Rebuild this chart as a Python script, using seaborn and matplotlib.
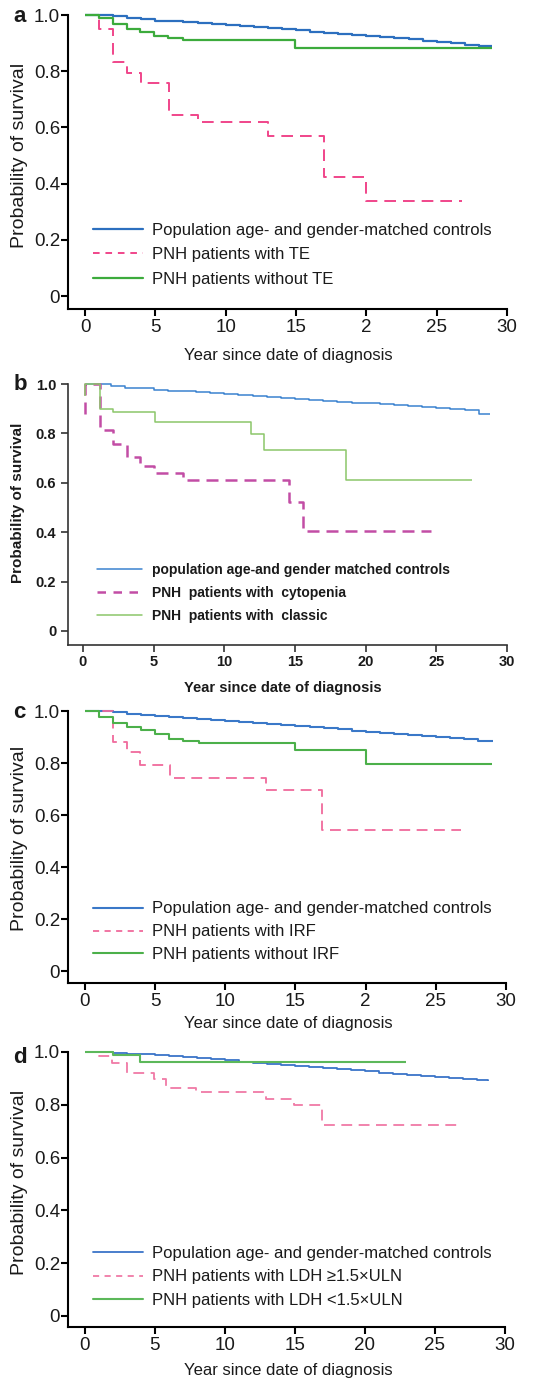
import matplotlib
matplotlib.use("Agg")
import matplotlib.pyplot as plt
from matplotlib.lines import Line2D
import pandas as pd
import seaborn as sns

sns.set_theme(style="ticks")
plt.rcParams["font.family"] = ["Liberation Sans", "DejaVu Sans"]
FAMILY = ["Liberation Sans", "DejaVu Sans"]

W, H = 553, 1382

# ---------------- data ----------------
x_ticks = [0, 5, 10, 15, 20, 25, 30]
y_ticks = [0, 0.2, 0.4, 0.6, 0.8, 1.0]
y_tick_labels = ["0", "0.2", "0.4", "0.6", "0.8", "1.0"]
x_tick_labels_ac = ["0", "5", "10", "15", "2", "25", "30"]
x_tick_labels_bd = ["0", "5", "10", "15", "20", "25", "30"]

# panel a: thromboembolism (TE)
a_ctrl_t = [0, 1, 2, 3, 4, 5, 6, 7, 8, 9, 10, 11, 12, 13, 14, 15, 16, 17, 18, 19,
            20, 21, 22, 23, 24, 25, 26, 27, 28, 28.9]
a_ctrl_s = [1.0, 1.0, 0.995, 0.99, 0.985, 0.98, 0.977, 0.974, 0.971, 0.968, 0.965,
            0.961, 0.957, 0.953, 0.949, 0.945, 0.941, 0.937, 0.933, 0.929, 0.925,
            0.921, 0.917, 0.913, 0.909, 0.905, 0.899, 0.895, 0.89, 0.888]
a_te_t = [0, 1.0, 2.0, 3.0, 4.0, 6.0, 8.0, 13.0, 17.0, 20.0, 26.8]
a_te_s = [1.0, 0.95, 0.834, 0.795, 0.757, 0.644, 0.62, 0.569, 0.425, 0.338, 0.338]
a_note_t = [0, 1.0, 2.0, 3.0, 3.9, 4.9, 5.9, 7.0, 14.9, 28.9]
a_note_s = [1.0, 0.988, 0.968, 0.949, 0.938, 0.925, 0.917, 0.911, 0.884, 0.884]
a_labels = ["Population age- and gender-matched controls",
            "PNH patients with TE",
            "PNH patients without TE"]

# panel b: cytopenia vs classic
b_ctrl_t = [0.2, 1, 2, 3, 4, 5, 6, 7, 8, 9, 10, 11, 12, 13, 14, 15, 16, 17, 18, 19,
            20, 21, 22, 23, 24, 25, 26, 27, 28, 28.8]
b_ctrl_s = [1.0, 1.0, 0.99, 0.985, 0.982, 0.975, 0.972, 0.97, 0.966, 0.962, 0.958,
            0.955, 0.951, 0.947, 0.943, 0.939, 0.936, 0.932, 0.928, 0.925, 0.922,
            0.918, 0.914, 0.91, 0.907, 0.903, 0.898, 0.893, 0.88, 0.88]
b_cyto_t = [0.15, 0.15, 1.2, 2.1, 3.1, 4.05, 5.05, 7.1, 14.6, 15.6, 24.6]
b_cyto_s = [0.88, 1.0, 0.812, 0.758, 0.704, 0.666, 0.639, 0.612, 0.521, 0.405, 0.405]
b_clas_t = [0.15, 0.15, 1.2, 2.1, 5.1, 11.9, 12.8, 18.6, 27.5]
b_clas_s = [0.95, 1.0, 0.90, 0.885, 0.848, 0.796, 0.733, 0.612, 0.612]
b_labels = ["population age-and gender matched controls",
            "PNH  patients with  cytopenia",
            "PNH  patients with  classic"]

# panel c: impaired renal function (IRF)
c_ctrl_t = [0, 1, 2, 3, 4, 5, 6, 7, 8, 9, 10, 11, 12, 13, 14, 15, 16, 17, 18, 19,
            20, 21, 22, 23, 24, 25, 26, 27, 28, 29.05]
c_ctrl_s = [1.0, 1.0, 0.995, 0.99, 0.985, 0.98, 0.977, 0.973, 0.969, 0.966, 0.962,
            0.958, 0.954, 0.95, 0.946, 0.941, 0.937, 0.933, 0.929, 0.925, 0.921,
            0.917, 0.913, 0.909, 0.905, 0.9, 0.896, 0.892, 0.885, 0.883]
c_irf_t = [0, 2.0, 3.0, 3.9, 6.05, 12.9, 16.9, 26.8]
c_irf_s = [1.0, 0.881, 0.843, 0.791, 0.744, 0.698, 0.542, 0.542]
c_noirf_t = [0, 1.0, 2.0, 3.0, 4.0, 5.0, 6.0, 7.0, 8.1, 15.0, 20.0, 29.0]
c_noirf_s = [1.0, 0.977, 0.955, 0.939, 0.926, 0.913, 0.894, 0.885, 0.877, 0.851,
             0.795, 0.795]
c_labels = ["Population age- and gender-matched controls",
            "PNH patients with IRF",
            "PNH patients without IRF"]

# panel d: LDH level
d_ctrl_t = [0, 1, 2, 3, 4, 5, 6, 7, 8, 9, 10, 11, 12, 13, 14, 15, 16, 17, 18, 19,
            20, 21, 22, 23, 24, 25, 26, 27, 28, 28.8]
d_ctrl_s = [1.0, 1.0, 0.997, 0.994, 0.992, 0.99, 0.985, 0.98, 0.976, 0.972, 0.968,
            0.964, 0.96, 0.955, 0.95, 0.946, 0.942, 0.938, 0.934, 0.93, 0.927,
            0.922, 0.918, 0.914, 0.909, 0.904, 0.9, 0.897, 0.893, 0.89]
d_high_t = [0, 1.0, 1.9, 3.0, 4.9, 5.8, 7.9, 12.9, 14.9, 16.9, 26.8]
d_high_s = [1.0, 0.984, 0.958, 0.92, 0.898, 0.863, 0.847, 0.823, 0.80, 0.724, 0.724]
d_low_t = [0, 2.0, 3.9, 22.9]
d_low_s = [1.0, 0.99, 0.961, 0.961]
d_labels = ["Population age- and gender-matched controls",
            "PNH patients with LDH \u22651.5\u00d7ULN",
            "PNH patients with LDH <1.5\u00d7ULN"]

# ---------------- drawing ----------------
fig = plt.figure(figsize=(W / 100, H / 100), dpi=100)


def add_panel(left, right, top, bottom):
    return fig.add_axes([left / W, 1 - bottom / H, (right - left) / W, (bottom - top) / H])


def curve(ax, t, s, color, lw, dash=None):
    df = pd.DataFrame({"time": t, "surv": s})
    kws = dict(color=color, linewidth=lw, drawstyle="steps-post", clip_on=False,
               solid_capstyle="butt", dash_capstyle="butt")
    if dash is not None:
        kws["linestyle"] = (0, dash)
    sns.lineplot(data=df, x="time", y="surv", ax=ax, estimator=None, sort=False,
                 legend=False, **kws)


def style_axes(ax, xlim, ylim, xt_labels, bold, tick_size, spine_color, spine_lw,
               pad_x, pad_y):
    ax.set_xlim(*xlim)
    ax.set_ylim(*ylim)
    sns.despine(ax=ax)
    for side in ("left", "bottom"):
        ax.spines[side].set_color(spine_color)
        ax.spines[side].set_linewidth(spine_lw)
    ax.set_xticks(x_ticks)
    ax.set_yticks(y_ticks)
    weight = "bold" if bold else "normal"
    ax.set_xticklabels(xt_labels, fontsize=tick_size, fontweight=weight, family=FAMILY)
    ax.set_yticklabels(y_tick_labels, fontsize=tick_size, fontweight=weight, family=FAMILY)
    ax.tick_params(axis="x", length=5, width=spine_lw, color=spine_color, pad=pad_x,
                   labelcolor="#1a1a1a")
    ax.tick_params(axis="y", length=5, width=spine_lw, color=spine_color, pad=pad_y,
                   labelcolor="#1a1a1a")
    ax.set_facecolor("none")


def add_labels(ax, px, bold, xl_size, yl_size, xl_center, xl_top, yl_right, yl_center):
    left, right, top, bottom = px
    weight = "bold" if bold else "normal"
    ax.set_xlabel("Year since date of diagnosis", fontsize=xl_size, fontweight=weight,
                  family=FAMILY, color="#1a1a1a")
    ax.set_ylabel("Probability of survival", fontsize=yl_size, fontweight=weight,
                  family=FAMILY, color="#1a1a1a")
    ax.xaxis.set_label_coords((xl_center - left) / (right - left),
                              (bottom - xl_top) / (bottom - top))
    ax.yaxis.set_label_coords((yl_right - left) / (right - left),
                              (bottom - yl_center) / (bottom - top))


def add_legend(ax, px, colors, lws, labels, first_top, x0, hl, htp, lsp, size, bold):
    left, right, top, bottom = px
    handles = [Line2D([], [], color=colors[0], lw=lws[0]),
               Line2D([], [], color=colors[1], lw=lws[1], linestyle=(0, (3.4, 3.0))),
               Line2D([], [], color=colors[2], lw=lws[2])]
    ax.legend(handles, labels, loc="upper left",
              bbox_to_anchor=((x0 - left) / (right - left), (bottom - first_top) / (bottom - top)),
              frameon=False, borderpad=0, borderaxespad=0, handlelength=hl,
              handletextpad=htp, labelspacing=lsp,
              prop={"size": size, "weight": "bold" if bold else "normal",
                    "family": FAMILY})
    for txt in ax.get_legend().get_texts():
        txt.set_color("#1a1a1a")


# panel a
pa = (68, 507, 15, 309)
ax = add_panel(*pa)
a_cols = ["#2c6fbf", "#f0458a", "#3cab3c"]
curve(ax, a_ctrl_t, a_ctrl_s, a_cols[0], 1.6)
curve(ax, a_te_t, a_te_s, a_cols[1], 1.4, dash=(6.0, 3.6))
curve(ax, a_note_t, a_note_s, a_cols[2], 1.6)
style_axes(ax, (-1.21, 30), (-0.046, 1.0), x_tick_labels_ac, False, 13.5, "black", 1.5, 2.5, 0.6)
add_labels(ax, pa, False, 12, 14, 288, 348, 28, 155)
add_legend(ax, pa, a_cols, [1.6, 1.4, 1.6], a_labels, 222.5, 93, 3.0, 0.54, 0.59, 12, False)

# panel b
pb = (68, 507, 384, 645)
ax = add_panel(*pb)
b_cols = ["#3b82d0", "#c24da5", "#8cc66a"]
curve(ax, b_ctrl_t, b_ctrl_s, b_cols[0], 1.1)
curve(ax, b_cyto_t, b_cyto_s, b_cols[1], 1.8, dash=(4.8, 2.8))
curve(ax, b_clas_t, b_clas_s, b_cols[2], 1.1)
style_axes(ax, (-1.06, 30), (-0.057, 1.0), x_tick_labels_bd, True, 10.5, "#333333", 1.2, 2.5, 3.5)
add_labels(ax, pb, True, 10.5, 11, 283, 681, 25, 503)
add_legend(ax, pb, b_cols, [1.1, 1.8, 1.1], b_labels, 563, 97, 3.24, 0.72, 0.64, 10, True)

# panel c
pc = (68, 506, 711, 983)
ax = add_panel(*pc)
c_cols = ["#3a78c8", "#f06a9c", "#4cb04a"]
curve(ax, c_ctrl_t, c_ctrl_s, c_cols[0], 1.5)
curve(ax, c_irf_t, c_irf_s, c_cols[1], 1.3, dash=(6.0, 3.6))
curve(ax, c_noirf_t, c_noirf_s, c_cols[2], 1.5)
style_axes(ax, (-1.21, 30), (-0.046, 1.0), x_tick_labels_ac, False, 13.5, "black", 1.5, 2.5, 0.6)
add_labels(ax, pc, False, 12, 14, 288, 1016, 28, 838)
add_legend(ax, pc, c_cols, [1.5, 1.3, 1.5], c_labels, 901.5, 93, 3.0, 0.54, 0.47, 12, False)

# panel d
pd_ = (68, 505, 1052, 1327)
ax = add_panel(*pd_)
d_cols = ["#3a74c8", "#f07aa6", "#5cb85a"]
curve(ax, d_ctrl_t, d_ctrl_s, d_cols[0], 1.3)
curve(ax, d_high_t, d_high_s, d_cols[1], 1.3, dash=(6.0, 3.6))
curve(ax, d_low_t, d_low_s, d_cols[2], 1.5)
style_axes(ax, (-1.21, 30), (-0.042, 1.0), x_tick_labels_bd, False, 13.5, "black", 1.5, 2.5, 0.6)
add_labels(ax, pd_, False, 12, 14, 288, 1363, 28, 1182)
add_legend(ax, pd_, d_cols, [1.3, 1.3, 1.5], d_labels, 1246, 93, 3.0, 0.54, 0.5, 12, False)

# panel letters
for letter, (px_x, px_y) in zip("abcd", [(20, 22), (20.5, 390), (19, 718), (20, 1063)]):
    fig.text(px_x / W, 1 - px_y / H, letter, fontsize=16, fontweight="bold",
             ha="center", va="baseline", color="#1a1a1a", family=FAMILY)

fig.savefig("out.png", dpi=100, facecolor="white")
